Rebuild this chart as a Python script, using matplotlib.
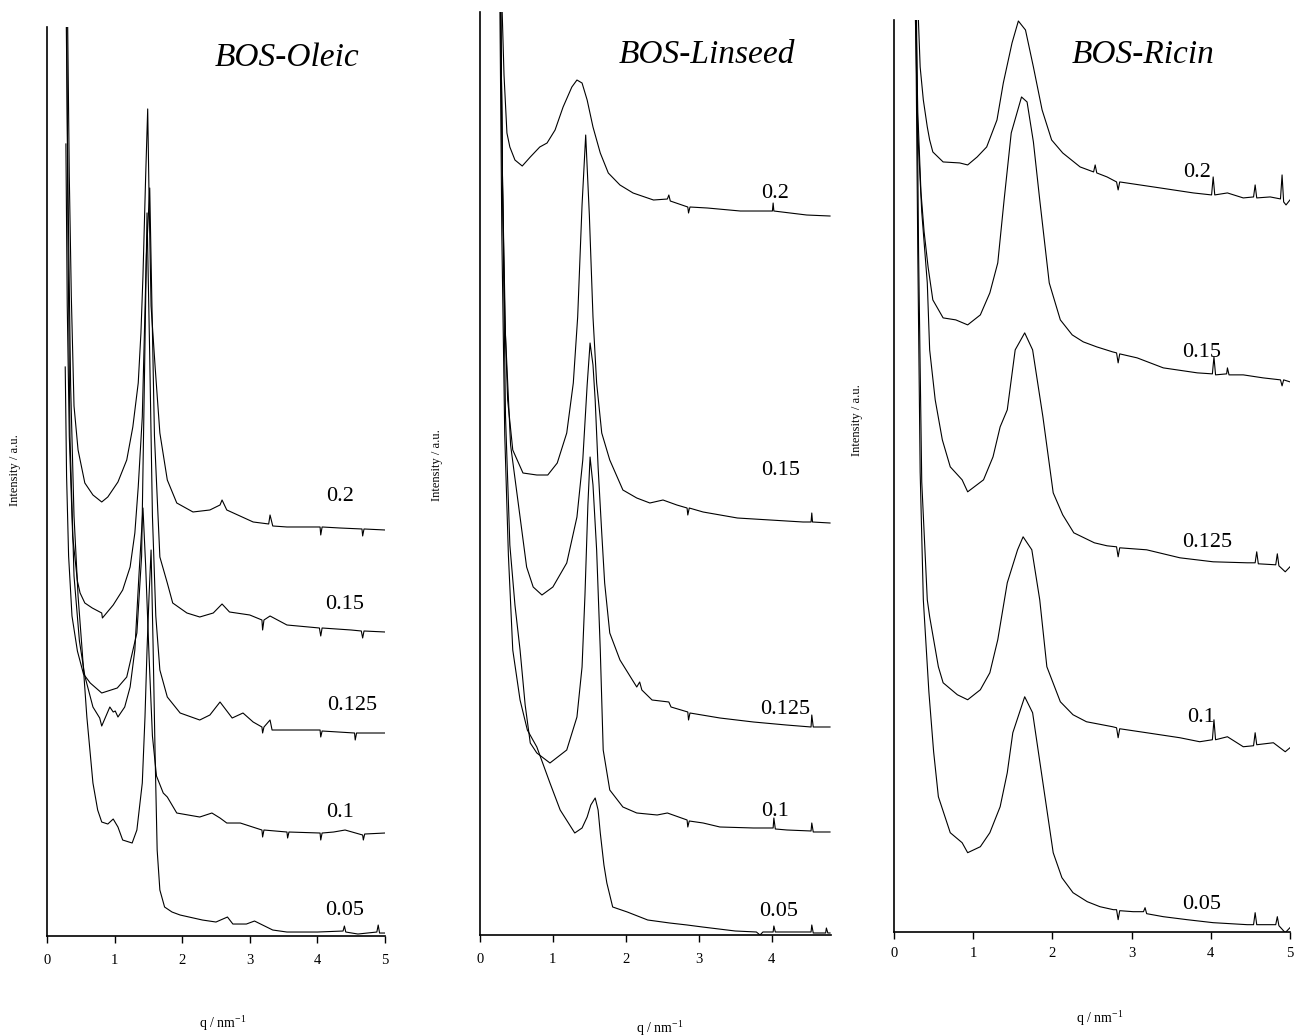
import matplotlib
matplotlib.use("Agg")
import matplotlib.pyplot as plt

plt.rcParams['font.family'] = ['Liberation Serif', 'DejaVu Serif']
plt.rcParams['mathtext.fontset'] = 'custom'
plt.rcParams['mathtext.rm'] = 'Liberation Serif'

# ---------------- BOS-Oleic ----------------
OLEIC_02_Q = [0.30, 0.33, 0.36, 0.40, 0.46, 0.56, 0.68, 0.81, 0.90, 1.05, 1.18, 1.27, 1.35, 1.39, 1.42, 1.46, 1.49, 1.51, 1.54, 1.60,
              1.67, 1.78, 1.92, 2.16, 2.41, 2.56, 2.59, 2.66, 3.05, 3.28, 3.30, 3.34, 3.55, 4.04, 4.05, 4.07, 4.33, 4.66, 4.67, 4.69, 5.0]
OLEIC_02_I = [9.5, 7.6, 6.4, 5.3, 4.86, 4.53, 4.41, 4.34, 4.39, 4.54, 4.76, 5.09, 5.53, 6.03, 6.6, 7.6, 8.27, 7.4, 6.3, 5.69,
              5.03, 4.56, 4.33, 4.24, 4.26, 4.31, 4.36, 4.26, 4.14, 4.12, 4.21, 4.10, 4.09, 4.09, 4.01, 4.09, 4.08, 4.07, 4.00, 4.07, 4.06]

OLEIC_015_Q = [0.28, 0.30, 0.33, 0.38, 0.45, 0.49, 0.56, 0.67, 0.81, 0.82, 0.98, 1.12, 1.23, 1.30, 1.35, 1.41, 1.47, 1.52, 1.55, 1.59,
               1.67, 1.78, 1.86, 2.07, 2.26, 2.46, 2.59, 2.70, 3.00, 3.18, 3.19, 3.21, 3.30, 3.55, 4.03, 4.05, 4.07, 4.50, 4.65, 4.67,
               4.69, 5.0]
OLEIC_015_I = [7.92, 6.3, 5.0, 4.0, 3.55, 3.43, 3.33, 3.28, 3.23, 3.18, 3.31, 3.46, 3.69, 4.03, 4.49, 5.19, 6.8, 7.48, 6.4, 5.0,
               3.79, 3.53, 3.33, 3.23, 3.19, 3.23, 3.32, 3.24, 3.21, 3.16, 3.06, 3.16, 3.20, 3.11, 3.08, 3.00, 3.08, 3.06, 3.05, 2.98,
               3.05, 3.04]

OLEIC_0125_Q = [0.27, 0.29, 0.32, 0.37, 0.45, 0.54, 0.64, 0.81, 1.04, 1.18, 1.33, 1.40, 1.44, 1.48, 1.52, 1.56, 1.61, 1.67, 1.78, 1.97,
                2.26, 2.41, 2.56, 2.74, 2.90, 3.05, 3.18, 3.19, 3.21, 3.30, 3.33, 3.55, 4.04, 4.05, 4.07, 4.55, 4.56, 4.58, 5.0]
OLEIC_0125_I = [5.69, 4.6, 3.8, 3.2, 2.85, 2.62, 2.53, 2.43, 2.48, 2.59, 3.03, 3.8, 5.5, 7.23, 5.8, 4.2, 3.2, 2.66, 2.39, 2.23,
                2.16, 2.21, 2.34, 2.18, 2.23, 2.14, 2.09, 2.03, 2.09, 2.16, 2.06, 2.06, 2.06, 1.99, 2.05, 2.03, 1.96, 2.03, 2.03]

OLEIC_01_Q = [0.29, 0.31, 0.34, 0.40, 0.48, 0.56, 0.68, 0.78, 0.81, 0.93, 0.98, 1.01, 1.05, 1.15, 1.23, 1.30, 1.36, 1.42, 1.46, 1.51,
              1.56, 1.62, 1.72, 1.78, 1.92, 2.26, 2.44, 2.56, 2.66, 2.86, 3.18, 3.19, 3.21, 3.55, 3.56, 3.58, 4.04, 4.05, 4.07, 4.24,
              4.41, 4.67, 4.68, 4.70, 5.0]
OLEIC_01_I = [9.5, 7.0, 5.0, 3.6, 2.95, 2.6, 2.29, 2.18, 2.10, 2.29, 2.24, 2.25, 2.19, 2.29, 2.49, 2.86, 3.6, 4.28, 3.7, 2.8,
              2.0, 1.6, 1.43, 1.39, 1.23, 1.19, 1.23, 1.18, 1.13, 1.13, 1.06, 0.99, 1.06, 1.04, 0.98, 1.04, 1.03, 0.96, 1.03, 1.04,
              1.06, 1.01, 0.96, 1.02, 1.03]

OLEIC_005_Q = [0.28, 0.31, 0.35, 0.40, 0.46, 0.52, 0.59, 0.68, 0.75, 0.81, 0.90, 0.98, 1.05, 1.12, 1.26, 1.33, 1.41, 1.45, 1.48, 1.51,
               1.54, 1.57, 1.60, 1.63, 1.67, 1.74, 1.85, 1.97, 2.30, 2.50, 2.67, 2.75, 2.95, 3.07, 3.34, 3.55, 4.00, 4.38, 4.40, 4.42,
               4.60, 4.88, 4.90, 4.92, 5.0]
OLEIC_005_I = [9.5, 7.5, 5.5, 4.2, 3.4, 2.86, 2.19, 1.53, 1.26, 1.14, 1.12, 1.17, 1.09, 0.96, 0.93, 1.06, 1.53, 2.19, 2.86, 3.4,
               3.86, 2.9, 1.8, 0.86, 0.46, 0.29, 0.24, 0.21, 0.16, 0.14, 0.19, 0.12, 0.12, 0.15, 0.06, 0.04, 0.04, 0.05, 0.10, 0.04,
               0.02, 0.04, 0.11, 0.03, 0.03]

# ---------------- BOS-Linseed ----------------
LIN_02_Q = [0.29, 0.33, 0.37, 0.41, 0.48, 0.58, 0.69, 0.82, 0.92, 1.03, 1.14, 1.26, 1.33, 1.40, 1.47, 1.55, 1.65, 1.76, 1.92, 2.10,
            2.38, 2.57, 2.59, 2.61, 2.85, 2.86, 2.88, 3.12, 3.57, 4.01, 4.02, 4.03, 4.48, 4.80]
LIN_02_I = [9.6, 8.6, 8.02, 7.88, 7.75, 7.69, 7.78, 7.88, 7.92, 8.05, 8.28, 8.48, 8.55, 8.52, 8.35, 8.08, 7.82, 7.62, 7.50, 7.42,
            7.35, 7.36, 7.40, 7.34, 7.28, 7.22, 7.28, 7.27, 7.24, 7.24, 7.32, 7.24, 7.20, 7.19]

LIN_015_Q = [0.28, 0.31, 0.34, 0.38, 0.45, 0.59, 0.78, 0.93, 1.06, 1.19, 1.28, 1.34, 1.40, 1.45, 1.50, 1.55, 1.60, 1.67, 1.78, 1.96,
             2.15, 2.33, 2.51, 2.70, 2.84, 2.85, 2.87, 3.06, 3.53, 3.98, 4.43, 4.54, 4.55, 4.56, 4.80]
LIN_015_I = [9.6, 7.5, 6.2, 5.35, 4.85, 4.62, 4.60, 4.60, 4.72, 5.02, 5.52, 6.18, 7.3, 8.0, 7.2, 6.18, 5.52, 5.02, 4.75, 4.45,
             4.37, 4.32, 4.35, 4.30, 4.27, 4.20, 4.27, 4.23, 4.17, 4.15, 4.13, 4.13, 4.22, 4.13, 4.12]

LIN_0125_Q = [0.28, 0.31, 0.35, 0.42, 0.55, 0.64, 0.73, 0.85, 1.00, 1.19, 1.33, 1.41, 1.47, 1.51, 1.55, 1.58, 1.62, 1.67, 1.71, 1.78,
              1.92, 2.15, 2.19, 2.22, 2.36, 2.59, 2.62, 2.85, 2.86, 2.88, 3.29, 3.75, 4.20, 4.54, 4.55, 4.57, 4.80]
LIN_0125_I = [9.6, 7.5, 6.0, 4.9, 4.18, 3.68, 3.48, 3.40, 3.48, 3.72, 4.18, 4.75, 5.5, 5.92, 5.7, 5.35, 4.68, 4.02, 3.52, 3.02,
              2.75, 2.48, 2.53, 2.45, 2.35, 2.33, 2.28, 2.23, 2.15, 2.22, 2.17, 2.13, 2.10, 2.08, 2.20, 2.08, 2.08]

LIN_01_Q = [0.28, 0.31, 0.35, 0.41, 0.48, 0.55, 0.62, 0.69, 0.78, 0.96, 1.19, 1.33, 1.40, 1.44, 1.48, 1.51, 1.55, 1.60, 1.65, 1.69,
            1.78, 1.96, 2.15, 2.43, 2.57, 2.84, 2.85, 2.87, 3.06, 3.29, 3.75, 4.02, 4.03, 4.05, 4.21, 4.54, 4.55, 4.57, 4.80]
LIN_01_I = [9.6, 7.5, 5.2, 3.9, 3.3, 2.85, 2.3, 1.92, 1.82, 1.72, 1.85, 2.18, 2.68, 3.4, 4.3, 4.78, 4.5, 3.85, 2.85, 1.85,
            1.45, 1.28, 1.22, 1.20, 1.22, 1.15, 1.08, 1.14, 1.12, 1.08, 1.07, 1.07, 1.17, 1.06, 1.05, 1.04, 1.12, 1.03, 1.03]

LIN_005_Q = [0.27, 0.30, 0.34, 0.39, 0.45, 0.55, 0.65, 0.78, 0.96, 1.10, 1.30, 1.40, 1.47, 1.52, 1.58, 1.62, 1.65, 1.70, 1.74, 1.82,
             2.02, 2.30, 2.60, 2.84, 3.05, 3.50, 3.79, 3.84, 3.88, 4.02, 4.03, 4.05, 4.30, 4.54, 4.55, 4.57, 4.74, 4.75, 4.77, 4.80]
LIN_005_I = [9.6, 7.0, 5.0, 3.8, 2.85, 2.35, 2.05, 1.88, 1.52, 1.25, 1.02, 1.07, 1.18, 1.30, 1.37, 1.25, 1.02, 0.70, 0.52, 0.28,
             0.23, 0.15, 0.12, 0.10, 0.08, 0.04, 0.03, 0.00, 0.03, 0.03, 0.09, 0.03, 0.03, 0.03, 0.10, 0.02, 0.02, 0.07, 0.02, 0.02]

# ---------------- BOS-Ricin ----------------
RIC_02_Q = [0.29, 0.33, 0.37, 0.42, 0.45, 0.49, 0.62, 0.83, 0.93, 1.05, 1.17, 1.30, 1.38, 1.49, 1.57, 1.66, 1.76, 1.87, 1.99, 2.13,
            2.35, 2.52, 2.54, 2.56, 2.69, 2.81, 2.83, 2.85, 3.36, 3.78, 4.01, 4.03, 4.05, 4.21, 4.41, 4.54, 4.56, 4.58, 4.75, 4.88,
            4.90, 4.92, 4.95, 5.0]
RIC_02_I = [9.5, 8.65, 8.32, 8.05, 7.92, 7.80, 7.70, 7.69, 7.67, 7.75, 7.85, 8.12, 8.49, 8.89, 9.11, 9.02, 8.65, 8.22, 7.92, 7.79,
            7.65, 7.60, 7.67, 7.59, 7.55, 7.50, 7.42, 7.50, 7.44, 7.39, 7.37, 7.55, 7.37, 7.39, 7.34, 7.35, 7.47, 7.34, 7.35, 7.33,
            7.57, 7.30, 7.27, 7.32]

RIC_015_Q = [0.27, 0.30, 0.34, 0.38, 0.43, 0.49, 0.62, 0.78, 0.93, 1.09, 1.21, 1.31, 1.39, 1.48, 1.61, 1.68, 1.76, 1.84, 1.96, 2.10,
             2.25, 2.39, 2.56, 2.76, 2.81, 2.83, 2.85, 3.07, 3.40, 3.83, 4.02, 4.04, 4.06, 4.20, 4.21, 4.23, 4.41, 4.66, 4.88, 4.90,
             4.92, 5.0]
RIC_015_I = [9.5, 8.2, 7.4, 7.0, 6.65, 6.32, 6.14, 6.12, 6.07, 6.17, 6.39, 6.69, 7.32, 7.99, 8.35, 8.3, 7.9, 7.32, 6.49, 6.12,
             5.97, 5.90, 5.85, 5.80, 5.79, 5.69, 5.78, 5.74, 5.64, 5.59, 5.58, 5.75, 5.57, 5.58, 5.64, 5.57, 5.57, 5.54, 5.52, 5.46,
             5.52, 5.50]

RIC_0125_Q = [0.26, 0.30, 0.35, 0.42, 0.45, 0.52, 0.61, 0.71, 0.86, 0.93, 1.13, 1.25, 1.34, 1.43, 1.53, 1.65, 1.75, 1.88, 2.01, 2.13,
              2.27, 2.53, 2.69, 2.81, 2.83, 2.85, 3.19, 3.61, 4.03, 4.46, 4.56, 4.58, 4.60, 4.82, 4.84, 4.86, 4.94, 5.0]
RIC_0125_I = [9.5, 8.0, 7.2, 6.49, 5.82, 5.32, 4.92, 4.65, 4.52, 4.40, 4.52, 4.75, 5.05, 5.22, 5.82, 5.99, 5.82, 5.15, 4.39, 4.17,
              3.99, 3.89, 3.86, 3.85, 3.75, 3.84, 3.82, 3.74, 3.70, 3.69, 3.69, 3.80, 3.68, 3.67, 3.78, 3.66, 3.60, 3.65]

RIC_01_Q = [0.28, 0.31, 0.35, 0.42, 0.45, 0.56, 0.62, 0.80, 0.93, 1.09, 1.21, 1.31, 1.43, 1.56, 1.63, 1.74, 1.84, 1.93, 2.10, 2.26,
            2.43, 2.76, 2.81, 2.83, 2.85, 3.19, 3.61, 3.86, 4.02, 4.04, 4.06, 4.21, 4.41, 4.54, 4.56, 4.58, 4.79, 4.94, 5.0]
RIC_01_I = [9.5, 6.8, 4.5, 3.32, 3.15, 2.65, 2.49, 2.37, 2.32, 2.42, 2.59, 2.92, 3.49, 3.82, 3.95, 3.82, 3.32, 2.65, 2.30, 2.17,
            2.10, 2.05, 2.04, 1.94, 2.03, 1.99, 1.94, 1.90, 1.92, 2.12, 1.92, 1.95, 1.85, 1.86, 1.99, 1.87, 1.89, 1.80, 1.84]

RIC_005_Q = [0.27, 0.30, 0.33, 0.37, 0.44, 0.50, 0.56, 0.71, 0.86, 0.93, 1.09, 1.21, 1.34, 1.43, 1.50, 1.65, 1.75, 1.88, 2.01, 2.12,
             2.26, 2.44, 2.60, 2.77, 2.81, 2.83, 2.85, 3.02, 3.15, 3.17, 3.19, 3.40, 3.70, 4.03, 4.46, 4.54, 4.56, 4.58, 4.72, 4.82,
             4.84, 4.86, 4.94, 5.0]
RIC_005_I = [9.5, 6.8, 4.6, 3.32, 2.4, 1.8, 1.35, 0.99, 0.89, 0.79, 0.85, 0.99, 1.25, 1.59, 1.99, 2.35, 2.19, 1.49, 0.79, 0.54,
             0.39, 0.30, 0.25, 0.22, 0.22, 0.12, 0.21, 0.20, 0.20, 0.24, 0.18, 0.15, 0.12, 0.09, 0.07, 0.07, 0.19, 0.07, 0.07, 0.07,
             0.15, 0.06, -0.01, 0.04]

CONC_LABELS = ['0.2', '0.15', '0.125', '0.1', '0.05']
TITLES = ['BOS-Oleic', 'BOS-Linseed', 'BOS-Ricin']

# label anchor points (q, intensity) for each panel
OLEIC_LABEL_POS = [(4.33, 4.39), (4.41, 3.31), (4.51, 2.31), (4.33, 1.24), (4.41, 0.26)]
LIN_LABEL_POS = [(4.05, 7.42), (4.12, 4.65), (4.18, 2.25), (4.05, 1.23), (4.09, 0.23)]
RIC_LABEL_POS = [(3.83, 7.59), (3.88, 5.79), (3.95, 3.89), (3.88, 2.14), (3.89, 0.27)]

panels = [
    dict(rect=[0.0363, 0.0965, 0.2612, 0.8775], xmax=5.0, ymax=9.09, ticks=[0, 1, 2, 3, 4, 5],
         curves=[(OLEIC_02_Q, OLEIC_02_I), (OLEIC_015_Q, OLEIC_015_I), (OLEIC_0125_Q, OLEIC_0125_I),
                 (OLEIC_01_Q, OLEIC_01_I), (OLEIC_005_Q, OLEIC_005_I)],
         labels=OLEIC_LABEL_POS, title_xy=(0.2218, 0.944), xlab_xy=(0.172, 0.0125), ylab_xy=(0.0116, 0.546), pad=8),
    dict(rect=[0.3709, 0.0975, 0.2711, 0.8909], xmax=4.81, ymax=9.23, ticks=[0, 1, 2, 3, 4],
         curves=[(LIN_02_Q, LIN_02_I), (LIN_015_Q, LIN_015_I), (LIN_0125_Q, LIN_0125_I),
                 (LIN_01_Q, LIN_01_I), (LIN_005_Q, LIN_005_I)],
         labels=LIN_LABEL_POS, title_xy=(0.5464, 0.9469), xlab_xy=(0.510, 0.0077), ylab_xy=(0.3377, 0.551), pad=8),
    dict(rect=[0.6909, 0.1007, 0.3060, 0.8800], xmax=5.0, ymax=9.12, ticks=[0, 1, 2, 3, 4, 5],
         curves=[(RIC_02_Q, RIC_02_I), (RIC_015_Q, RIC_015_I), (RIC_0125_Q, RIC_0125_I),
                 (RIC_01_Q, RIC_01_I), (RIC_005_Q, RIC_005_I)],
         labels=RIC_LABEL_POS, title_xy=(0.8833, 0.9469), xlab_xy=(0.850, 0.017), ylab_xy=(0.6623, 0.595), pad=6),
]

fig = plt.figure(figsize=(12.94, 10.36), dpi=100)

for title, p in zip(TITLES, panels):
    ax = fig.add_axes(p['rect'])
    for q, inten in p['curves']:
        ax.plot(q, inten, color='black', lw=0.8)
    for lab, (lx, ly) in zip(CONC_LABELS, p['labels']):
        ax.text(lx, ly, lab, ha='center', va='center', fontsize=16)
    ax.set_xlim(0, p['xmax'])
    ax.set_ylim(0, p['ymax'])
    ax.set_xticks(p['ticks'])
    ax.set_yticks([])
    for side in ['top', 'right']:
        ax.spines[side].set_visible(False)
    for side in ['left', 'bottom']:
        ax.spines[side].set_linewidth(1.2)
    ax.tick_params(axis='x', direction='out', length=5, width=1.0, labelsize=10.5, pad=p['pad'])
    fig.text(p['title_xy'][0], p['title_xy'][1], title, ha='center', va='center',
             fontsize=24, style='italic')
    fig.text(p['xlab_xy'][0], p['xlab_xy'][1], r'q / nm$^{\mathregular{-1}}$', ha='center', va='center', fontsize=10)
    fig.text(p['ylab_xy'][0], p['ylab_xy'][1], 'Intensity / a.u.', ha='center', va='center',
             rotation=90, fontsize=9)

fig.savefig('out.png', dpi=100)
